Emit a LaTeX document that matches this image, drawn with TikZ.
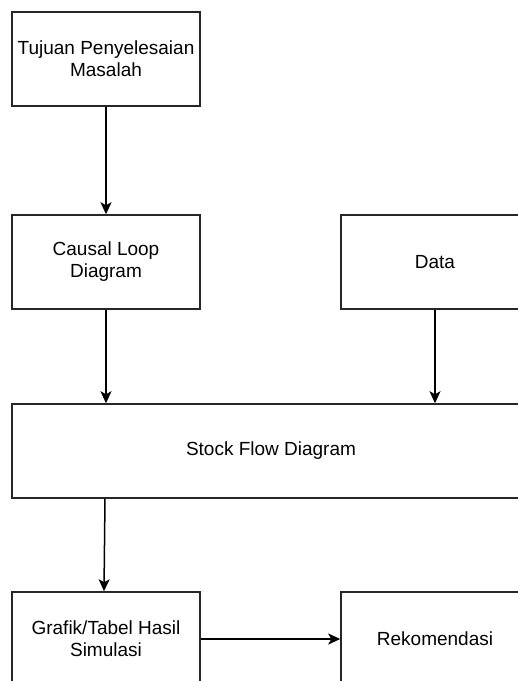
\documentclass[tikz,border=0pt]{standalone}
\usepackage{fontspec}
\setmainfont{Liberation Sans}
\usetikzlibrary{arrows.meta}
\begin{document}
\begin{tikzpicture}[x=1pt,y=-1pt,
  box/.style={draw=black!85, line width=1.5pt, fill=white, inner sep=0pt,
    minimum width=188pt, minimum height=94pt, align=center,
    font=\fontsize{19}{22}\selectfont},
  wide/.style={box, minimum width=518pt},
  flow/.style={draw=black, line width=1.5pt,
    -{Stealth[length=12pt,width=11pt,inset=3pt]}}]
  \useasboundingbox (0,0) rectangle (518,681);
  \clip (0,0) rectangle (518,681);
  \fill[white] (0,0) rectangle (518,681);

  % process boxes
  \node[box]  (tujuan) at (106,59)  {Tujuan Penyelesaian\\Masalah};
  \node[box]  (cld)    at (106,262) {Causal Loop\\Diagram};
  \node[box]  (data)   at (435,262) {Data};
  \node[wide] (sfd)    at (271,451) {Stock Flow Diagram};
  \node[box]  (grafik) at (106,639) {Grafik/Tabel Hasil\\Simulasi};
  \node[box]  (rekom)  at (435,639) {Rekomendasi};

  % connectors
  \draw[flow] (tujuan.south) -- (cld.north);
  \draw[flow] (cld.south) -- (cld.south |- sfd.north);
  \draw[flow] (data.south) -- (data.south |- sfd.north);
  \draw[flow] ([xshift=-1pt]grafik.north |- sfd.south) -- ([xshift=-2pt]grafik.north);
  \draw[flow] (grafik.east) -- (rekom.west);
\end{tikzpicture}
\end{document}
